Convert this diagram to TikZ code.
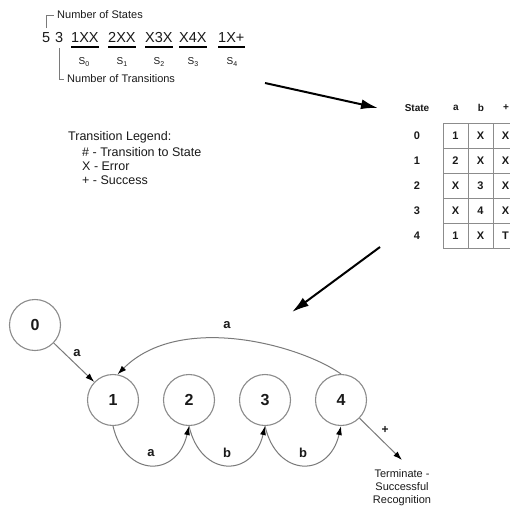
\documentclass[tikz,border=0pt]{standalone}
\usepackage{fontspec}
\setmainfont{Liberation Sans}
\usetikzlibrary{arrows.meta}
\definecolor{cgray}{HTML}{8C8C8C}
\definecolor{lgray}{HTML}{7A7A7A}
\definecolor{ink}{HTML}{1A1A1A}
\begin{document}
\begin{tikzpicture}[x=1pt,y=-1pt,
  state/.style={circle,draw=cgray,line width=1.1pt,minimum size=51pt,inner sep=0pt,
    font=\fontsize{16}{18}\selectfont\bfseries,text=ink},
  tr/.style={draw=lgray,line width=1pt,-{Latex[length=9pt,width=6pt,color=black]}},
  lbl/.style={font=\fontsize{13}{15}\selectfont\bfseries,text=ink,inner sep=1pt},
  big/.style={draw=black,line width=2pt,-{Latex[length=17pt,width=10pt]}},
  cell/.style={draw=cgray,line width=0.9pt,minimum size=25pt,inner sep=0pt,
    font=\fontsize{11}{13}\selectfont\bfseries,text=ink},
  rowlab/.style={font=\fontsize{11}{13}\selectfont\bfseries,text=ink,inner sep=0pt},
  hdr/.style={font=\fontsize{10}{12}\selectfont\bfseries,text=ink,inner sep=0pt},
  grp/.style={anchor=base west,inner sep=0pt,font=\fontsize{14.5}{16}\selectfont,text=ink},
  slab/.style={font=\fontsize{10}{12}\selectfont,text=ink,inner sep=0pt},
  small/.style={anchor=west,inner sep=0pt,font=\fontsize{11}{13}\selectfont,text=ink},
  legend/.style={anchor=west,inner sep=0pt,font=\fontsize{12.5}{15}\selectfont,text=ink},
  uline/.style={draw=black,line width=1.2pt},
  brk/.style={draw=lgray,line width=0.8pt}
]
\useasboundingbox (0,0) rectangle (510,507);
\fill[white] (0,0) rectangle (510,507);
\clip (0,0) rectangle (510,507);

% ---- top notation ----
\node[grp] (g5) at (42,42) {5};
\node[grp] (g3) at (55,42) {3};
\node[grp] (g1) at (71,42) {1XX};
\node[grp] (g2) at (108,42) {2XX};
\node[grp] (g3b) at (145,42) {X3X};
\node[grp] (g4) at (179,42) {X4X};
\node[grp] (g6) at (218,42) {1X+};
\foreach \g in {g1,g2,g3b,g4,g6}{
  \draw[uline] ([yshift=-5pt]\g.base west) -- ([yshift=-5pt]\g.base east);
}
\node[slab] (s0) at (84,62) {S\raisebox{-2pt}{\fontsize{7}{8}\selectfont 0}};
\node[slab] (s1) at (122,62) {S\raisebox{-2pt}{\fontsize{7}{8}\selectfont 1}};
\node[slab] (s2) at (159,62) {S\raisebox{-2pt}{\fontsize{7}{8}\selectfont 2}};
\node[slab] (s3) at (193,62) {S\raisebox{-2pt}{\fontsize{7}{8}\selectfont 3}};
\node[slab] (s4) at (232,62) {S\raisebox{-2pt}{\fontsize{7}{8}\selectfont 4}};

\node[small] (nos) at (57,15) {Number of States};
\coordinate (b1) at (46,28);
\draw[brk] (b1) |- ([xshift=-3pt]nos.west);
\node[small] (not) at (67,79) {Number of Transitions};
\coordinate (b2) at (59,48);
\draw[brk] (b2) |- ([xshift=-3pt]not.west);

% ---- legend ----
\node[legend] (lg0) at (68,137) {Transition Legend:};
\node[legend] (lg1) at (82,152) {\# - Transition to State};
\node[legend] (lg2) at (82,166) {X - Error};
\node[legend] (lg3) at (82,180) {+ - Success};

% ---- big arrows ----
\coordinate (a1s) at (265,83);
\coordinate (a1e) at (378,108);
\draw[big] (a1s) -- (a1e);
\coordinate (a2s) at (380,247);
\coordinate (a2e) at (292,312);
\draw[big] (a2s) -- (a2e);

% ---- table ----
\node[hdr] (hs) at (417,108) {State};
\node[hdr] (ha) at (456,108) {a};
\node[hdr] (hb) at (481,108) {b};
\node[hdr] (hp) at (506,108) {+};
\foreach \r/\ca/\cb/\cc in {0/1/X/X, 1/2/X/X, 2/X/3/X, 3/X/4/X, 4/1/X/T}{
  \node[rowlab] (r\r) at (417,{135.5+25*\r}) {\r};
  \node[cell] (c\r a) at (455.5,{135.5+25*\r}) {\ca};
  \node[cell] (c\r b) at (480.5,{135.5+25*\r}) {\cb};
  \node[cell] (c\r c) at (505.5,{135.5+25*\r}) {\cc};
}

% ---- automaton ----
\node[state] (n0) at (35,325) {0};
\node[state] (n1) at (113,400) {1};
\node[state] (n2) at (189,400) {2};
\node[state] (n3) at (265,400) {3};
\node[state] (n4) at (341,400) {4};

\draw[tr] (n0) -- (n1);
\node[lbl] (l01) at (77,353) {a};

\draw[tr] (n4.north) .. controls (300,345) and (180,312) .. (n1.80);
\node[lbl] (l41) at (227,325) {a};

\draw[tr] (n1.south) .. controls (125,478) and (177,478) .. (n2.south);
\node[lbl] (l12) at (151,453) {a};
\draw[tr] (n2.south) .. controls (201,478) and (253,478) .. (n3.south);
\node[lbl] (l23) at (227,453) {b};
\draw[tr] (n3.south) .. controls (277,478) and (329,478) .. (n4.south);
\node[lbl] (l34) at (303,453) {b};

\coordinate (tend) at (402,460);
\draw[tr] (n4) -- (tend);
\node[lbl,font=\fontsize{12}{14}\selectfont\bfseries] (lp) at (385,430) {+};
\node[align=center,inner sep=0pt,font=\fontsize{11}{13}\selectfont,text=ink] (term) at (402,488)
  {Terminate -\\Successful\\Recognition};
\end{tikzpicture}
\end{document}
